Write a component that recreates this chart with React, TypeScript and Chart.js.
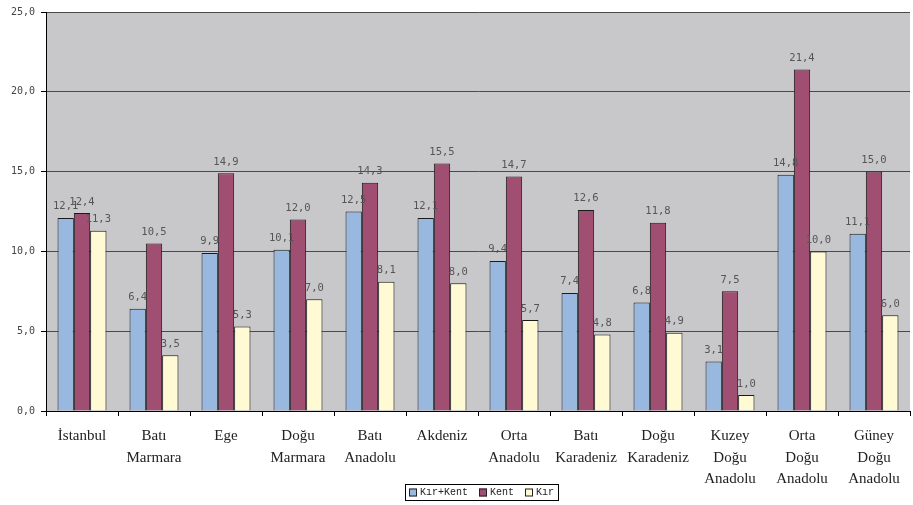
import React, { useEffect, useRef } from "react";
import { Chart, registerables } from "chart.js";

Chart.register(...registerables);

const categories: string[][] = [
  ["İstanbul"],
  ["Batı", "Marmara"],
  ["Ege"],
  ["Doğu", "Marmara"],
  ["Batı", "Anadolu"],
  ["Akdeniz"],
  ["Orta", "Anadolu"],
  ["Batı", "Karadeniz"],
  ["Doğu", "Karadeniz"],
  ["Kuzey", "Doğu", "Anadolu"],
  ["Orta", "Doğu", "Anadolu"],
  ["Güney", "Doğu", "Anadolu"],
];

const kirKent = [12.1, 6.4, 9.9, 10.1, 12.5, 12.1, 9.4, 7.4, 6.8, 3.1, 14.8, 11.1];
const kent = [12.4, 10.5, 14.9, 12.0, 14.3, 15.5, 14.7, 12.6, 11.8, 7.5, 21.4, 15.0];
const kir = [11.3, 3.5, 5.3, 7.0, 8.1, 8.0, 5.7, 4.8, 4.9, 1.0, 10.0, 6.0];

const seriesNames = ["Kır+Kent", "Kent", "Kır"];
const seriesColors = ["#99b8e0", "#a14e73", "#fffad4"];

const fmt = (v: number) => v.toFixed(1).replace(".", ",");

const bgPlugin = {
  id: "plotBg",
  beforeDraw(chart: any) {
    const { ctx, chartArea } = chart;
    ctx.save();
    ctx.fillStyle = "#c8c8ca";
    ctx.fillRect(chartArea.left, chartArea.top, chartArea.right - chartArea.left, chartArea.bottom - chartArea.top);
    ctx.restore();
  },
};

const labelPlugin = {
  id: "valueLabels",
  afterDatasetsDraw(chart: any) {
    const { ctx } = chart;
    ctx.save();
    ctx.font = "10.5px 'DejaVu Sans Mono'";
    ctx.fillStyle = "#555555";
    ctx.textAlign = "center";
    ctx.textBaseline = "bottom";
    chart.data.datasets.forEach((ds: any, i: number) => {
      const meta = chart.getDatasetMeta(i);
      meta.data.forEach((el: any, j: number) => {
        ctx.fillText(fmt(ds.data[j]), el.x, el.y - 6);
      });
    });
    ctx.restore();
  },
};

const legendPlugin = {
  id: "boxLegend",
  afterDraw(chart: any) {
    const { ctx } = chart;
    ctx.save();
    ctx.font = "10px 'Liberation Mono'";
    ctx.textBaseline = "middle";
    const marker = 8;
    const gapMarker = 3;
    const gapItem = 11;
    const pad = 4;
    const widths = seriesNames.map((n) => ctx.measureText(n).width);
    const total = widths.reduce((a, w) => a + marker + gapMarker + w, 0) + gapItem * (seriesNames.length - 1) + pad * 2;
    const left = Math.round(482 - total / 2);
    const top = 484;
    const h = 16;
    ctx.strokeStyle = "#000";
    ctx.lineWidth = 1;
    ctx.strokeRect(left + 0.5, top + 0.5, total, h);
    let x = left + pad;
    const cy = top + h / 2 + 0.5;
    seriesNames.forEach((n, i) => {
      ctx.fillStyle = seriesColors[i];
      ctx.fillRect(x, cy - marker / 2, marker, marker);
      ctx.strokeStyle = "#222";
      ctx.strokeRect(x + 0.5, cy - marker / 2 + 0.5, marker - 1, marker - 1);
      x += marker + gapMarker;
      ctx.fillStyle = "#222";
      ctx.fillText(n, x, cy);
      x += widths[i] + gapItem;
    });
    ctx.restore();
  },
};

export default function App() {
  const ref = useRef<HTMLCanvasElement | null>(null);
  useEffect(() => {
    document.body.style.margin = "0";
    if (!ref.current) return;
    const chart = new Chart(ref.current, {
      type: "bar",
      data: {
        labels: categories,
        datasets: [
          { label: seriesNames[0], data: kirKent, backgroundColor: seriesColors[0] },
          { label: seriesNames[1], data: kent, backgroundColor: seriesColors[1] },
          { label: seriesNames[2], data: kir, backgroundColor: seriesColors[2] },
        ].map((d) => ({
          ...d,
          borderColor: "#1a1a1a",
          borderWidth: 1,
          borderSkipped: "bottom" as const,
          categoryPercentage: 0.68,
          barPercentage: 1.0,
        })),
      },
      options: {
        responsive: false,
        animation: false,
        layout: { padding: { top: 11, right: 3, bottom: 0, left: 0 } },
        plugins: {
          legend: { display: false },
          tooltip: { enabled: false },
        },
        scales: {
          x: {
            offset: true,
            grid: {
              display: true,
              offset: true,
              drawOnChartArea: false,
              drawTicks: true,
              tickLength: 5,
              color: "#000",
            },
            border: { display: true, color: "#000", width: 1 },
            ticks: {
              color: "#222",
              font: { family: "'Liberation Serif'", size: 15, lineHeight: 1.45 },
              padding: 9,
              maxRotation: 0,
              autoSkip: false,
            },
            afterFit(scale: any) {
              scale.height = 94;
            },
          },
          y: {
            min: 0,
            max: 25,
            ticks: {
              stepSize: 5,
              color: "#444",
              font: { family: "'DejaVu Sans Mono'", size: 10 },
              padding: 6,
              callback: (v: any) => fmt(Number(v)),
            },
            grid: {
              color: "#4a4a4a",
              lineWidth: 1,
              tickLength: 5,
              tickColor: "#000",
            },
            border: { display: true, color: "#000", width: 1 },
            afterFit(scale: any) {
              scale.width = 46;
            },
          },
        },
      },
      plugins: [bgPlugin, labelPlugin, legendPlugin],
    });
    return () => chart.destroy();
  }, []);
  return <canvas ref={ref} width={913} height={505} style={{ display: "block" }} />;
}
